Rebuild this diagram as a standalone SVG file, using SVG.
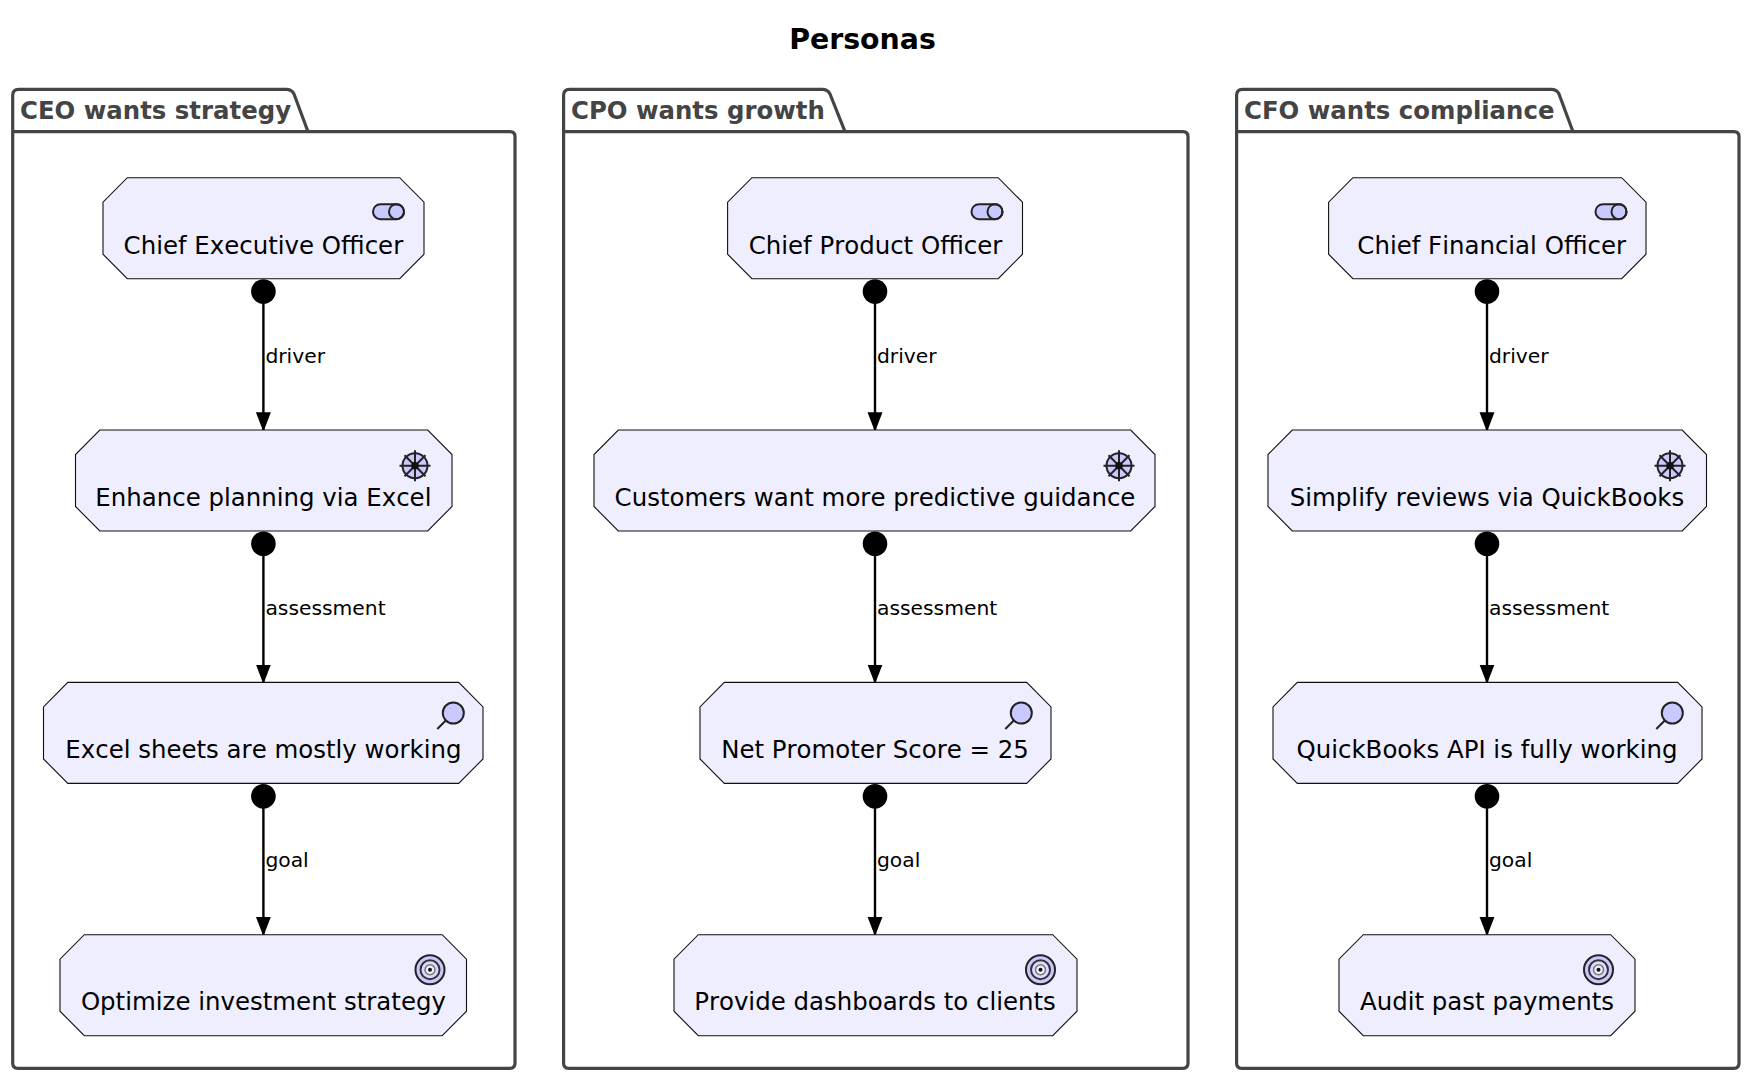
<svg xmlns="http://www.w3.org/2000/svg" width="1750" height="1080" viewBox="0 0 1750 1080">
<style>
text{font-family:"DejaVu Sans",sans-serif;font-kerning:none}
.title{font-size:28.4px;font-weight:bold;fill:#000;text-anchor:middle}
.pkg{fill:none;stroke:#444;stroke-width:3.2;stroke-linejoin:round}
.pt{font-size:24.4px;font-weight:bold;fill:#444}
.n{fill:#EEF;stroke:#111;stroke-width:1.1;stroke-linejoin:miter}
.nt{font-size:24.45px;fill:#000;text-anchor:middle}
.el{font-size:20.3px;fill:#000}
.c{stroke:#000;stroke-width:2.4;fill:none;marker-start:url(#dot);marker-end:url(#tri)}
.i{fill:#C9C9FF;stroke:#222;stroke-width:2}
.d{fill:none;stroke:#222;stroke-width:2}
</style>
<defs>
<marker id="dot" markerUnits="userSpaceOnUse" markerWidth="26" markerHeight="26" refX="13" refY="13" orient="auto"><circle cx="13" cy="13" r="12.3" fill="#000"/></marker>
<marker id="tri" markerUnits="userSpaceOnUse" markerWidth="20" markerHeight="16" refX="19.500" refY="8" orient="auto"><path d="M0 .5L19.500 8L0 15.500Z" fill="#000"/></marker>
<g id="i-role"><rect class="i" x="-15.500" y="-7.500" width="31" height="15" rx="7.500"/><circle class="d" cx="8" r="7.500"/></g>
<g id="i-driver"><circle class="i" r="12.500"/><path class="d" d="M0-15.500V15.500M-15.500 0H15.500M-10.500-10.500L10.500 10.500M-10.500 10.500L10.500-10.500"/><circle r="3.800" fill="#111"/></g>
<g id="i-assess"><circle class="i" r="10.500"/><path class="d" d="M-7.500 7.500L-16 16" stroke-width="2.200"/></g>
<g id="i-goal"><circle class="i" r="14.500" stroke-width="2.200"/><circle r="9.500" fill="#DADAFF" stroke="#333" stroke-width="2"/><circle r="5" fill="#EEF" stroke="#777" stroke-width="1.500"/><circle r="2" fill="#111"/></g>
</defs>
<rect width="1750" height="1080" fill="#fff"/>
<text class="title" x="862.500" y="49">Personas</text>

<g id="pkg-ceo"><path class="pkg" d="M12.700 131.700V95.300Q12.700 89.300 18.700 89.300H286Q292 89.300 294 94L308 131.700M12.700 131.700H510Q515 131.700 515 136.700V1063.300Q515 1068.300 510 1068.300H17.700Q12.700 1068.300 12.700 1063.300V131.700"/><text class="pt" x="20" y="119">CEO wants strategy</text></g>
<g id="pkg-cpo"><path class="pkg" d="M563.600 131.700V95.300Q563.600 89.300 569.600 89.300H822Q828 89.300 830 94L845 131.700M563.600 131.700H1183Q1188 131.700 1188 136.700V1063.300Q1188 1068.300 1183 1068.300H568.600Q563.600 1068.300 563.600 1063.300V131.700"/><text class="pt" x="571" y="119">CPO wants growth</text></g>
<g id="pkg-cfo"><path class="pkg" d="M1236.600 131.700V95.300Q1236.600 89.300 1242.600 89.300H1551Q1557 89.300 1559 94L1573 131.700M1236.600 131.700H1734Q1739 131.700 1739 136.700V1063.300Q1739 1068.300 1734 1068.300H1241.600Q1236.600 1068.300 1236.600 1063.300V131.700"/><text class="pt" x="1244" y="119">CFO wants compliance</text></g>

<g id="connectors">
<path class="c" d="M263.400 291.500V431.700"/><path class="c" d="M263.400 543.800V684"/><path class="c" d="M263.400 796.200V936.300"/>
<path class="c" d="M875 291.500V431.700"/><path class="c" d="M875 543.800V684"/><path class="c" d="M875 796.200V936.300"/>
<path class="c" d="M1487 291.500V431.700"/><path class="c" d="M1487 543.800V684"/><path class="c" d="M1487 796.200V936.300"/>
<text class="el" x="265.400" y="362.500">driver</text><text class="el" x="265.400" y="615">assessment</text><text class="el" x="265.400" y="867">goal</text>
<text class="el" x="877" y="362.500">driver</text><text class="el" x="877" y="615">assessment</text><text class="el" x="877" y="867">goal</text>
<text class="el" x="1489" y="362.500">driver</text><text class="el" x="1489" y="615">assessment</text><text class="el" x="1489" y="867">goal</text>
</g>

<g id="n1"><path class="n" d="M127.300 177.700H399.700L424 202.200V254.200L399.700 278.700H127.300L103 254.200V202.200Z"/><use href="#i-role" x="388.500" y="211.700"/><text class="nt" x="263.400" y="253.500">Chief Executive Officer</text></g>
<g id="n2"><path class="n" d="M99.800 430H427.700L452 454.500V506.500L427.700 531H99.800L75.500 506.500V454.500Z"/><use href="#i-driver" x="415" y="465.700"/><text class="nt" x="263.400" y="505.500">Enhance planning via Excel</text></g>
<g id="n3"><path class="n" d="M67.800 682.400H458.700L483 706.900V758.900L458.700 783.400H67.800L43.500 758.900V706.900Z"/><use href="#i-assess" x="453.300" y="713"/><text class="nt" x="263.400" y="757.500">Excel sheets are mostly working</text></g>
<g id="n4"><path class="n" d="M84.300 934.700H442.200L466.500 959.200V1011.200L442.200 1035.700H84.300L60 1011.200V959.200Z"/><use href="#i-goal" x="430" y="969.700"/><text class="nt" x="263.400" y="1009.500">Optimize investment strategy</text></g>

<g id="n5"><path class="n" d="M751.900 177.700H998.200L1022.500 202.200V254.200L998.200 278.700H751.900L727.600 254.200V202.200Z"/><use href="#i-role" x="987" y="211.700"/><text class="nt" x="875.500" y="253.500">Chief Product Officer</text></g>
<g id="n6"><path class="n" d="M618.300 430H1130.700L1155 454.500V506.500L1130.700 531H618.300L594 506.500V454.500Z"/><use href="#i-driver" x="1119" y="465.700"/><text class="nt" x="875" y="505.500">Customers want more predictive guidance</text></g>
<g id="n7"><path class="n" d="M724.300 682.400H1026.700L1051 706.900V758.900L1026.700 783.400H724.300L700 758.900V706.900Z"/><use href="#i-assess" x="1021.300" y="713"/><text class="nt" x="875" y="757.500">Net Promoter Score = 25</text></g>
<g id="n8"><path class="n" d="M698.300 934.700H1052.700L1077 959.200V1011.200L1052.700 1035.700H698.300L674 1011.200V959.200Z"/><use href="#i-goal" x="1040.500" y="969.700"/><text class="nt" x="875" y="1009.500">Provide dashboards to clients</text></g>

<g id="n9"><path class="n" d="M1352.900 177.700H1621.700L1646 202.200V254.200L1621.700 278.700H1352.900L1328.600 254.200V202.200Z"/><use href="#i-role" x="1611" y="211.700"/><text class="nt" x="1491.700" y="253.500">Chief Financial Officer</text></g>
<g id="n10"><path class="n" d="M1292.300 430H1682.200L1706.500 454.500V506.500L1682.200 531H1292.300L1268 506.500V454.500Z"/><use href="#i-driver" x="1670" y="465.700"/><text class="nt" x="1487" y="505.500">Simplify reviews via QuickBooks</text></g>
<g id="n11"><path class="n" d="M1297.300 682.400H1677.700L1702 706.900V758.900L1677.700 783.400H1297.300L1273 758.900V706.900Z"/><use href="#i-assess" x="1672.300" y="713"/><text class="nt" x="1487" y="757.500">QuickBooks API is fully working</text></g>
<g id="n12"><path class="n" d="M1363.300 934.700H1610.700L1635 959.200V1011.200L1610.700 1035.700H1363.300L1339 1011.200V959.200Z"/><use href="#i-goal" x="1598.500" y="969.700"/><text class="nt" x="1487" y="1009.500">Audit past payments</text></g>
</svg>
